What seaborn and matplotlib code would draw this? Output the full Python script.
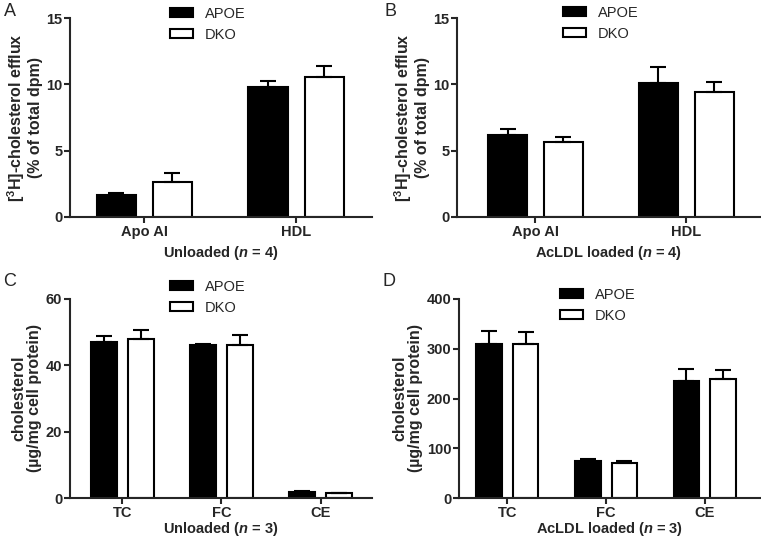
import numpy as np
import pandas as pd
import matplotlib
matplotlib.use("Agg")
import matplotlib.pyplot as plt
from matplotlib.patches import Patch
import seaborn as sns

# ---- data (upper error = SEM) ----
efflux_cats = ["Apo AI", "HDL"]
chol_cats = ["TC", "FC", "CE"]
groups = ["APOE", "DKO"]

a_apoe = [1.65, 9.8]
a_apoe_sem = [0.15, 0.45]
a_dko = [2.65, 10.55]
a_dko_sem = [0.7, 0.8]

b_apoe = [6.15, 10.1]
b_apoe_sem = [0.45, 1.2]
b_dko = [5.65, 9.45]
b_dko_sem = [0.35, 0.75]

c_apoe = [47.0, 46.1, 1.8]
c_apoe_sem = [1.8, 0.4, 0.2]
c_dko = [47.8, 46.1, 1.5]
c_dko_sem = [3.0, 2.9, 0.1]

d_apoe = [310, 74, 235]
d_apoe_sem = [26, 4, 24]
d_dko = [310, 70, 239]
d_dko_sem = [23, 5, 18]

sns.set_style("ticks")
plt.rcParams['font.family'] = ['Liberation Sans', 'DejaVu Sans']
plt.rcParams['mathtext.fontset'] = 'custom'
plt.rcParams['mathtext.rm'] = 'Liberation Sans:bold'
plt.rcParams['mathtext.bf'] = 'Liberation Sans:bold'
plt.rcParams['mathtext.it'] = 'Liberation Sans:italic:bold'
plt.rcParams['mathtext.bfit'] = 'Liberation Sans:italic:bold'

palette = {"APOE": "black", "DKO": "white"}
efflux_label = "[$^{\\mathbf{3}}$H]-cholesterol efflux\n(% of total dpm)"
chol_label = "cholesterol\n(\u00b5g/mg cell protein)"


def draw_panel(fig, rect, cats, apoe, apoe_sem, dko, dko_sem, yticks, ylabel,
               xlabel, xlabelpad, letter, letter_xy, leg_xy, xlim):
    ax = fig.add_axes(rect)
    df = pd.DataFrame({
        "cat": cats * 2,
        "group": ["APOE"] * len(cats) + ["DKO"] * len(cats),
        "value": list(apoe) + list(dko),
    })
    sns.barplot(data=df, x="cat", y="value", hue="group", order=cats,
                hue_order=groups, palette=palette, edgecolor="black",
                linewidth=1.5, width=0.74, gap=0.3, errorbar=None,
                legend=False, ax=ax)
    # upper-only error bars, GraphPad style
    for cont, sem in zip(ax.containers, [apoe_sem, dko_sem]):
        xs = [b.get_x() + b.get_width() / 2 for b in cont]
        hs = [b.get_height() for b in cont]
        ax.errorbar(xs, hs, yerr=[np.zeros(len(sem)), sem], fmt='none',
                    ecolor='black', elinewidth=1.5, capsize=5.5,
                    capthick=1.5, zorder=3)
    ax.set_ylim(0, yticks[-1])
    ax.set_yticks(yticks)
    ax.set_xlim(*xlim)
    ax.set_ylabel(ylabel, fontsize=11.5, fontweight='bold', labelpad=2.5,
                  linespacing=1.05)
    ax.set_xlabel(xlabel, fontsize=10.5, fontweight='bold',
                  labelpad=xlabelpad)
    ax.tick_params(axis='both', labelsize=10.5, width=1.5, length=4,
                   direction='out', pad=1.5)
    for lab in ax.get_xticklabels() + ax.get_yticklabels():
        lab.set_fontweight('bold')
    sns.despine(ax=ax)
    for s in ["left", "bottom"]:
        ax.spines[s].set_linewidth(1.5)
    handles = [Patch(facecolor=palette[g], edgecolor='black', linewidth=1.5,
                     label=g) for g in groups]
    ax.legend(handles=handles, loc='upper left', bbox_to_anchor=leg_xy,
              bbox_transform=fig.transFigure, frameon=False, fontsize=10.5,
              borderpad=0, borderaxespad=0, handlelength=1.6,
              handleheight=0.6, handletextpad=0.8, labelspacing=0.45)
    fig.text(letter_xy[0], letter_xy[1], letter, fontsize=13, va='top',
             ha='left')
    return ax


W, H = 761, 542
fig = plt.figure(figsize=(W / 100, H / 100), dpi=100)

draw_panel(fig, [70 / W, 1 - 217 / H, 302 / W, 199 / H], efflux_cats,
           a_apoe, a_apoe_sem, a_dko, a_dko_sem, [0, 5, 10, 15],
           efflux_label, "Unloaded ($\\mathbfit{n}$ = 4)", 4, "A",
           (4 / W, 1 - 3 / H), (170 / W, 1 - 7 / H), (-0.49, 1.5))
draw_panel(fig, [457 / W, 1 - 217 / H, 303 / W, 199 / H], efflux_cats,
           b_apoe, b_apoe_sem, b_dko, b_dko_sem, [0, 5, 10, 15],
           efflux_label, "AcLDL loaded ($\\mathbfit{n}$ = 4)", 4, "B",
           (385 / W, 1 - 3 / H), (563 / W, 1 - 6 / H), (-0.52, 1.49))
draw_panel(fig, [70 / W, 1 - 498 / H, 302 / W, 199 / H], chol_cats,
           c_apoe, c_apoe_sem, c_dko, c_dko_sem, [0, 20, 40, 60],
           chol_label, "Unloaded ($\\mathbfit{n}$ = 3)", 0.5, "C",
           (3 / W, 1 - 273 / H), (170 / W, 1 - 280 / H), (-0.53, 2.52))
draw_panel(fig, [459 / W, 1 - 498 / H, 301 / W, 199 / H], chol_cats,
           d_apoe, d_apoe_sem, d_dko, d_dko_sem, [0, 100, 200, 300, 400],
           chol_label, "AcLDL loaded ($\\mathbfit{n}$ = 3)", 0.5, "D",
           (383 / W, 1 - 273 / H), (560 / W, 1 - 288 / H), (-0.49, 2.56))

fig.savefig("out.png", dpi=100, facecolor='white')
